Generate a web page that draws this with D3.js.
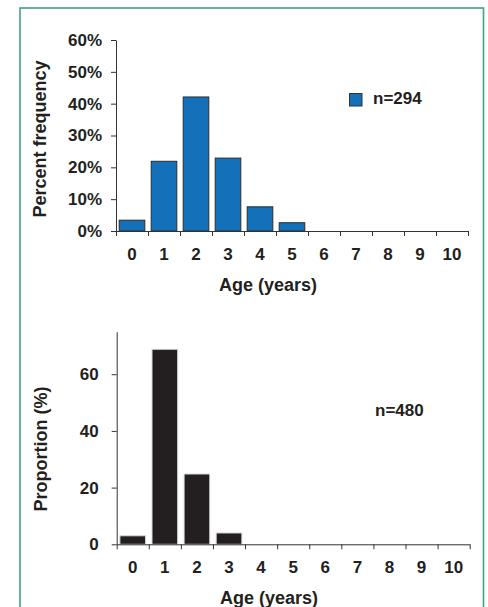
<!DOCTYPE html>
<html>
<head>
<meta charset="utf-8">
<script src="https://cdn.jsdelivr.net/npm/d3@7"></script>
<style>
  body { margin: 0; background: #fff; }
  svg text { font-family: "Liberation Sans", Arial, sans-serif; font-weight: bold; fill: #231f20; }
</style>
</head>
<body>
<div id="graph"></div>
<script>
// data
var ages = ["0","1","2","3","4","5","6","7","8","9","10"];
var freqTop = [3.4, 21.9, 42.1, 22.9, 7.6, 2.6, 0, 0, 0, 0, 0];
var propBottom = [3.0, 68.8, 24.8, 4.0, 0, 0, 0, 0, 0, 0, 0];
var topTicks = [0, 10, 20, 30, 40, 50, 60];
var bottomTicks = [0, 20, 40, 60];
var topLegend = "n=294";
var bottomLegend = "n=480";

var w = 488, h = 607;
var vis = d3.select("#graph").append("svg")
  .attr("width", w)
  .attr("height", h);

// green frame, runs off the bottom of the page
vis.append("rect")
  .attr("x", 20).attr("y", 8)
  .attr("width", 463.5).attr("height", 640)
  .attr("fill", "none")
  .attr("stroke", "#3da57a")
  .attr("stroke-width", 1.6);

function drawPanel(opt) {
  var g = vis.append("g");
  var x = d3.scaleBand().domain(ages).range([opt.x0, opt.x1])
    .paddingInner(0.2).paddingOuter(0.1);
  var xb = d3.scaleLinear().domain([0, ages.length]).range([opt.x0, opt.x1]);
  var y = d3.scaleLinear().domain([0, opt.ymax]).range([opt.y0, opt.y1]);

  g.selectAll("rect.bar")
    .data(opt.values)
    .enter()
    .append("rect")
    .attr("class", "bar")
    .filter(function(d) { return d > 0; })
    .attr("x", function(d, i) { return x(ages[i]); })
    .attr("y", function(d) { return y(d); })
    .attr("width", x.bandwidth())
    .attr("height", function(d) { return y(0) - y(d); })
    .attr("fill", opt.fill)
    .attr("stroke", opt.stroke)
    .attr("stroke-width", 1);

  // x axis: line and ticks at band edges
  var xAxis = g.append("g")
    .attr("transform", "translate(0," + opt.y0 + ")")
    .call(d3.axisBottom(xb).tickValues(d3.range(ages.length + 1))
      .tickFormat("").tickSize(5).tickSizeOuter(0));
  xAxis.selectAll("path, line").attr("stroke", "#333");

  // x tick labels
  var xLab = g.append("g")
    .attr("transform", "translate(0," + opt.y0 + ")")
    .call(d3.axisBottom(x).tickSize(0).tickPadding(opt.xLabelPad));
  xLab.select(".domain").remove();
  xLab.selectAll("text").attr("font-size", 17).attr("fill", "#231f20")
    .style("font-family", "Liberation Sans, Arial, sans-serif");

  // y axis
  var yAxis = g.append("g")
    .attr("transform", "translate(" + opt.x0 + ",0)")
    .call(d3.axisLeft(y).tickValues(opt.ticks).tickFormat(opt.fmt)
      .tickSize(5).tickSizeOuter(0).tickPadding(opt.yLabelPad));
  yAxis.selectAll("path, line").attr("stroke", "#333");
  yAxis.selectAll("text").attr("font-size", 17).attr("fill", "#231f20")
    .style("font-family", "Liberation Sans, Arial, sans-serif");

  // axis titles
  g.append("text")
    .attr("x", opt.xTitleX).attr("y", opt.xTitleY)
    .attr("text-anchor", "middle")
    .attr("font-size", 18)
    .text("Age (years)");
  g.append("text")
    .attr("transform", "translate(" + opt.yTitleX + "," + opt.yTitleY + ") rotate(-90)")
    .attr("text-anchor", "middle")
    .attr("font-size", 18)
    .text(opt.yTitle);

  // legend
  if (opt.swatch) {
    g.append("rect")
      .attr("x", 349.5).attr("y", opt.legendY - 10.5)
      .attr("width", 12.5).attr("height", 12.5)
      .attr("fill", opt.fill).attr("stroke", "#333").attr("stroke-width", 1);
  }
  g.append("text")
    .attr("x", opt.legendX).attr("y", opt.legendY)
    .attr("font-size", 17)
    .text(opt.legend);
}

drawPanel({
  values: freqTop, x0: 116, x1: 468, y0: 231, y1: 40, ymax: 60,
  ticks: topTicks, fmt: function(d) { return d + "%"; },
  fill: "#1370b9", stroke: "#2b2b2b",
  xLabelPad: 17, yLabelPad: 9,
  xTitleX: 268, xTitleY: 291,
  yTitleX: 46, yTitleY: 139, yTitle: "Percent frequency",
  swatch: true, legend: topLegend, legendX: 373, legendY: 104
});

drawPanel({
  values: propBottom, x0: 116.7, x1: 469.7, y0: 544.3, y1: 331.7, ymax: 75,
  ticks: bottomTicks, fmt: function(d) { return d; },
  fill: "#231f20", stroke: "#d8d8d8",
  xLabelPad: 17, yLabelPad: 13,
  xTitleX: 269, xTitleY: 604,
  yTitleX: 47, yTitleY: 449, yTitle: "Proportion (%)",
  swatch: false, legend: bottomLegend, legendX: 375, legendY: 416
});
</script>
</body>
</html>
